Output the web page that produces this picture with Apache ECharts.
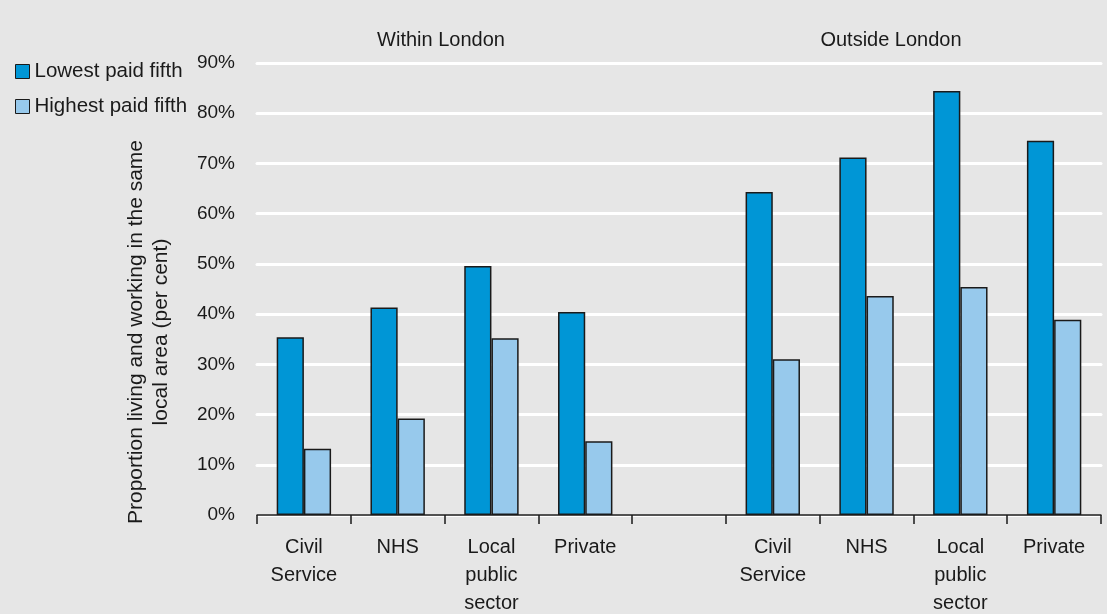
<!DOCTYPE html>
<html>
<head>
<meta charset="utf-8">
<script src="https://cdn.jsdelivr.net/npm/echarts@6/dist/echarts.min.js"></script>
<style>
  html, body { margin: 0; padding: 0; background: #e6e6e6; }
  #chart { width: 1107px; height: 614px; }
</style>
</head>
<body>
<div id="chart"></div>
<script>
var categories = ['Civil\nService', 'NHS', 'Local\npublic\nsector', 'Private', '',
                  'Civil\nService', 'NHS', 'Local\npublic\nsector', 'Private'];
var lowestPaid = [35.4, 41.3, 49.6, 40.4, null, 64.3, 71.2, 84.4, 74.5];
var highestPaid = [13.2, 19.2, 35.2, 14.7, null, 31.0, 43.6, 45.4, 38.9];
var groupTitles = ['Within London', 'Outside London'];
var yTicks = [0, 10, 20, 30, 40, 50, 60, 70, 80, 90];

var font = "'Liberation Sans', Arial, sans-serif";

var chart = echarts.init(document.getElementById('chart'));
chart.setOption({
    backgroundColor: '#e6e6e6',
    animation: false,
    textStyle: { fontFamily: font, color: '#1a1a1a' },
    title: [
        { text: groupTitles[0], left: 436, top: 25, textAlign: 'center',
          textStyle: { fontSize: 20, fontWeight: 'normal', color: '#1a1a1a', fontFamily: font } },
        { text: groupTitles[1], left: 886, top: 25, textAlign: 'center',
          textStyle: { fontSize: 20, fontWeight: 'normal', color: '#1a1a1a', fontFamily: font } }
    ],
    legend: {
        orient: 'vertical',
        left: 10,
        top: 56,
        itemWidth: 14,
        itemHeight: 14,
        itemGap: 14,
        icon: 'rect',
        textStyle: { fontSize: 20.5, color: '#1a1a1a', fontFamily: font },
        itemStyle: { borderColor: '#1a1a1a', borderWidth: 1 }
    },
    grid: { left: 257, right: 6, top: 63, bottom: 99, outerBoundsMode: 'none' },
    xAxis: {
        type: 'category',
        data: categories,
        axisLine: { lineStyle: { color: '#1a1a1a', width: 1.5 } },
        axisTick: { show: true, length: 9, lineStyle: { color: '#1a1a1a', width: 1.5 } },
        axisLabel: { fontSize: 20, color: '#1a1a1a', lineHeight: 28, margin: 18, interval: 0, fontFamily: font }
    },
    yAxis: {
        type: 'value',
        min: 0,
        max: 90,
        interval: 10,
        axisLine: { show: false },
        axisTick: { show: false },
        axisLabel: {
            fontSize: 19, color: '#1a1a1a', margin: 22, fontFamily: font,
            formatter: function (v) { return yTicks.indexOf(v) >= 0 ? v + '%' : ''; }
        },
        splitLine: { lineStyle: { color: '#ffffff', width: 3, cap: 'round' } }
    },
    graphic: [{
        type: 'text',
        x: 149,
        y: 332,
        rotation: Math.PI / 2,
        style: {
            text: 'Proportion living and working in the same\nlocal area (per cent)',
            fontSize: 21,
            lineHeight: 25,
            fontFamily: font,
            fill: '#1a1a1a',
            align: 'center',
            verticalAlign: 'middle'
        }
    }],
    series: [{
        name: 'Lowest paid fifth',
        type: 'bar',
        data: lowestPaid,
        barGap: '0%',
        barCategoryGap: '42%',
        itemStyle: { color: '#0096d6', borderColor: '#1a1a1a', borderWidth: 1.5 }
    }, {
        name: 'Highest paid fifth',
        type: 'bar',
        data: highestPaid,
        itemStyle: { color: '#97c9ec', borderColor: '#1a1a1a', borderWidth: 1.5 }
    }]
});
window.addEventListener('resize', function () {
    chart.resize();
});
</script>
</body>
</html>
